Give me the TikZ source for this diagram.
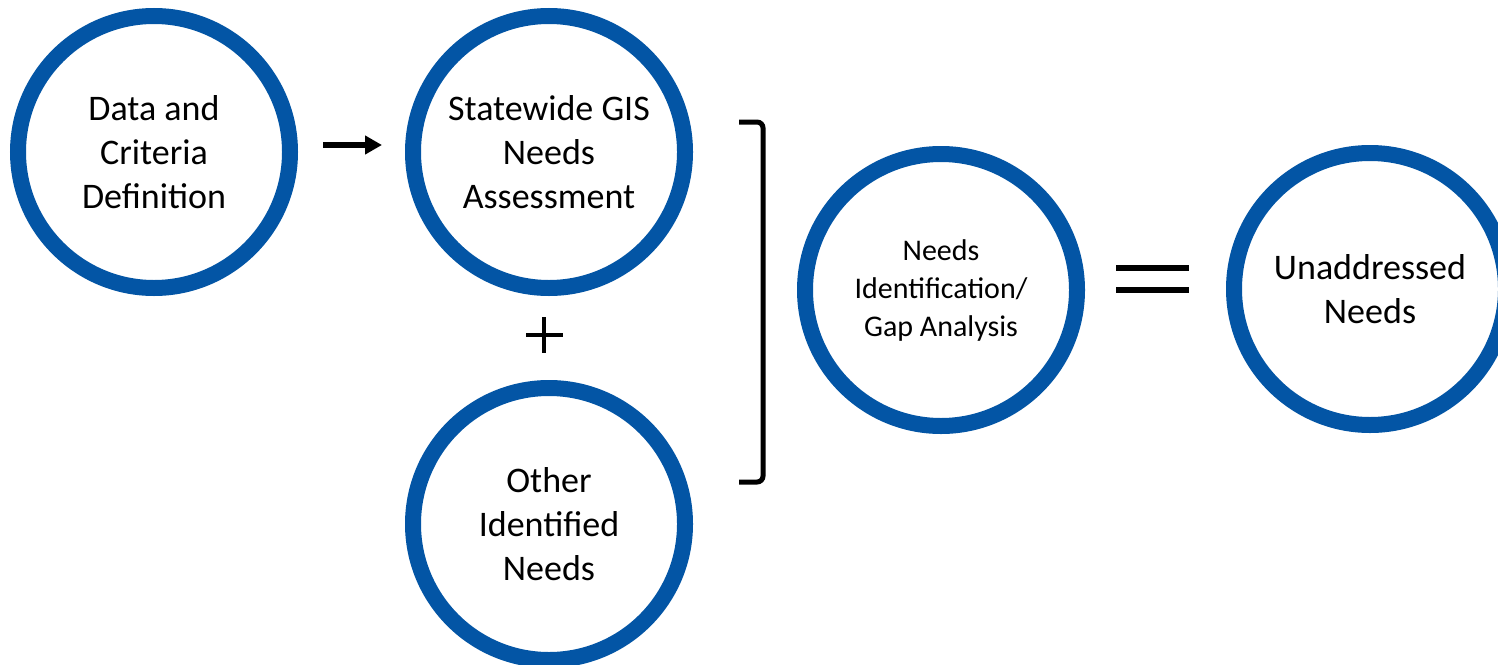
\documentclass[tikz,border=0pt]{standalone}
\usepackage{fontspec}
\setmainfont{Carlito}
\usepackage{xcolor}
\usepackage{tikz}
\usetikzlibrary{arrows.meta}
\definecolor{ringblue}{HTML}{0355A5}
\tikzstyle{ringnode}=[black, draw=ringblue, line width=8pt, shape=circle, fill=white, minimum size=136pt, inner sep=0pt, align=center, font=\fontsize{18}{22}\selectfont]
\tikzstyle{smallringnode}=[ringnode, font=\fontsize{15}{19}\selectfont]
\tikzstyle{signline}=[black, line width=2pt]

\begin{document}
\begin{tikzpicture}[x=0.5pt, y=-0.5pt]
\useasboundingbox (0,0) rectangle (1498,664);
\clip (0,0) rectangle (1498,664);
\fill[white] (0,0) rectangle (1498,664);

\node [ringnode] (datacrit) at (154,152) {Data and\\Criteria\\Definition};
\node [ringnode] (statewide) at (549,152) {Statewide GIS\\Needs\\Assessment};
\node [ringnode] (otherneeds) at (549,524) {Other\\Identified\\Needs};
\node [smallringnode] (gapanalysis) at (941,290) {Needs\\Identification/\\Gap Analysis};
\node [ringnode] (unaddressed) at (1370,289) {Unaddressed\\Needs};

\draw[-{Triangle[length=8.5pt, width=9pt]}, line width=3pt, color=black, shorten <=12.5pt, shorten >=11.5pt] ([yshift=3.5pt]datacrit.east) -- ([yshift=3.5pt]statewide.west);

% plus
\draw[signline] (526,335) -- (563,335);
\draw[signline] (544,317) -- (544,353);

% bracket
\draw[black, line width=2.5pt, rounded corners=3pt] (739,122) -- (763,122) -- (763,482) -- (739,482);

% equals
\draw[signline, line width=3pt] (1116,268) -- (1189,268);
\draw[signline, line width=3pt] (1116,290) -- (1189,290);
\end{tikzpicture}
\end{document}
